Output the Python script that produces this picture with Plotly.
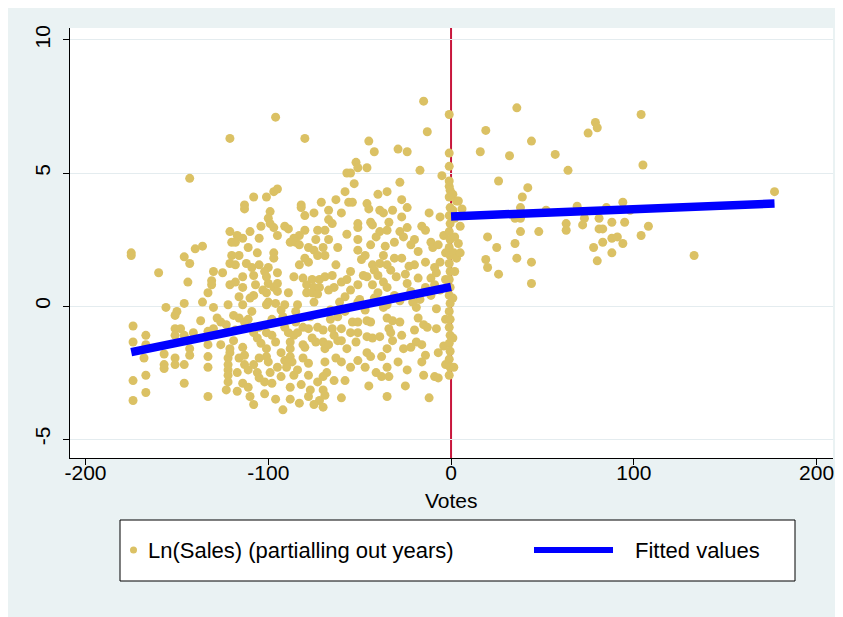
import plotly.graph_objects as go

# ---- data ----
left_points = [
    (-175, 2.0), (-175, 1.9), (-121, 6.3), (-143, 4.8), (-96, 7.1), (-80, 6.3), (-57, 5.0),
    (-108, 4.1), (-101, 4.1), (-97, 4.3), (-95, 4.4), (-82, 3.8), (-71, 3.9), (-113, 3.8), (-56, 3.9),
    (-15, 7.7), (-13, 6.55), (-45, 6.2), (-42, 5.8), (-29, 5.9), (-24, 5.8), (-52, 5.4), (-51, 5.2),
    (-46, 5.2), (-55, 5.0), (-17, 5.1), (-5, 4.9), (-53, 4.6), (-28, 4.65), (-27, 4.0), (-54, 3.9), (-46, 3.85),
    (-160, 1.25), (-144, 0.9), (-146, 1.85), (-143, 1.6), (-140, 2.15), (-136, 2.25), (-121, 2.8), (-120, 2.4),
    (-120, 1.9), (-130, 1.3), (-131, 0.95), (-131, 0.8), (-125, 1.25), (-121, 1.6), (-133, 0.5), (-136, 0.15),
    (-146, 0.1), (-156, -0.05), (-150, -0.2), (-130, -0.05), (-121, 0.8), (-122, 0.05),
    (-174, -0.75), (-174, -1.35), (-167, -1.1), (-167, -1.45), (-168, -1.95), (-151, -0.35), (-151, -0.85),
    (-148, -0.85), (-151, -1.1), (-141, -1.0), (-146, -1.1), (-157, -1.8), (-157, -2.2), (-157, -2.35),
    (-151, -1.95), (-151, -2.2), (-146, -2.2), (-143, -1.6), (-143, -1.85), (-146, -2.9), (-167, -2.6),
    (-174, -2.8), (-167, -3.25), (-174, -3.55), (-133, -1.9), (-133, -2.3), (-133, -3.4), (-133, -0.95),
    (-133, -1.45), (-126, -0.6), (-128, -0.45), (-126, -1.45), (-122, -1.95), (-122, -2.2), (-122, -2.4),
    (-122, -2.6), (-122, -2.85), (-123, -3.15), (-121, -1.6), (-121, -1.75),
    (-123, -0.7), (-119, -0.35), (-137, -0.55), (-130, -0.85), (-118, -0.9), (-109, -0.2), (-116, -0.45),
    (-113, 3.65), (-99, 3.55), (-82, 3.7), (-75, 3.5), (-67, 3.6), (-60, 3.5), (-80, 3.4), (-100, 3.3),
    (-99, 3.1), (-97, 2.95), (-95, 2.65), (-91, 3.0), (-89, 2.9), (-80, 2.85), (-83, 2.65), (-86, 2.55),
    (-73, 2.85), (-69, 2.85), (-67, 3.25), (-117, 2.65), (-114, 2.55), (-105, 2.55), (-88, 2.4), (-85, 2.4),
    (-74, 2.5), (-67, 2.5), (-118, 2.4), (-111, 2.2), (-83, 2.3), (-78, 2.2), (-75, 2.1), (-73, 1.9),
    (-69, 1.9), (-70, 2.2), (-97, 2.0), (-97, 1.8), (-80, 1.8), (-78, 1.65), (-83, 1.55), (-63, 1.55),
    (-109, 1.45), (-105, 1.55), (-100, 1.45), (-118, 1.55), (-114, 1.1), (-108, 1.15), (-102, 1.3),
    (-101, 1.1), (-95, 1.25), (-86, 1.1), (-81, 1.05), (-76, 1.0), (-72, 1.0), (-69, 1.1), (-65, 1.15),
    (-60, 0.9), (-114, 0.7), (-107, 0.8), (-100, 0.85), (-97, 0.7), (-95, 0.85), (-79, 0.8), (-75, 0.7),
    (-72, 0.7), (-64, 0.7), (-116, 0.35), (-108, 0.4), (-101, 0.5), (-100, 0.15), (-95, 0.55), (-89, 0.5),
    (-79, 0.5), (-76, 0.5), (-73, 0.45), (-67, 0.6), (-101, 0.05), (-114, 0.05), (-96, 0.1), (-91, 0.05),
    (-84, 0.05), (-75, 0.15), (-58, 0.35), (-61, 0.15),
    (-45, 3.65), (-37, 3.5), (-27, 3.35), (-24, 3.7), (-51, 3.1), (-51, 2.95), (-44, 3.15), (-43, 3.05),
    (-39, 2.8), (-35, 2.85), (-34, 3.15), (-28, 2.8), (-26, 2.6), (-24, 2.95), (-6, 3.35), (-51, 2.5),
    (-44, 2.3), (-36, 2.25), (-37, 1.9), (-51, 2.1), (-49, 1.75), (-18, 2.05), (-11, 2.4), (-10, 2.2),
    (-7, 2.3), (-27, 1.8), (-43, 1.55), (-39, 1.6), (-35, 1.55), (-33, 1.35), (-42, 1.35), (-40, 1.15),
    (-48, 1.15), (-46, 1.1), (-30, 1.1), (-18, 1.05), (-9, 1.45), (-8, 1.25), (-11, 1.05), (-9, 0.8),
    (-51, 0.8), (-43, 0.8), (-37, 0.9), (-35, 0.7), (-24, 0.85), (-14, 0.7), (-51, 0.15), (-21, 0.15),
    (-19, -0.05), (-8, -0.1), (-37, -0.05), (-35, 0.05),
    (-14, 1.65), (-6, 1.65), (-20, 1.55), (-14, 2.85), (-4, 2.65), (-20, 2.5),
    (-93, -0.15), (-85, -0.2), (-66, -0.15), (-58, -0.2), (-50, 0.25), (-42, 0.3), (-31, 0.4), (-22, 0.55),
    (-17, 0.25), (-11, 0.4), (-6, 0.6), (-55, 0.6), (-47, -0.15),
    (-113, -0.6), (-111, -0.5), (-105, -0.8), (-101, -1.0), (-91, -0.8), (-89, -1.0), (-86, -1.1),
    (-81, -0.8), (-78, -0.85), (-73, -0.8), (-70, -0.9), (-65, -0.85), (-60, -0.85), (-114, -1.55),
    (-106, -1.2), (-104, -1.4), (-101, -1.6), (-96, -1.35), (-93, -1.75), (-88, -1.35), (-88, -1.6),
    (-88, -1.9), (-81, -1.45), (-80, -1.55), (-74, -1.35), (-70, -1.35), (-69, -1.6), (-67, -1.45),
    (-62, -1.3), (-60, -1.3), (-116, -1.95), (-113, -1.85), (-113, -2.2), (-105, -1.95), (-101, -1.9),
    (-100, -2.1), (-95, -2.3), (-91, -2.05), (-87, -2.1), (-81, -1.95), (-78, -2.15), (-69, -2.1),
    (-68, -2.5), (-63, -1.95), (-60, -2.1), (-111, -2.4), (-106, -2.5), (-99, -2.5), (-93, -2.65),
    (-105, -2.7), (-102, -2.85), (-98, -2.9), (-70, -2.65), (-73, -2.85), (-114, -2.9), (-111, -3.05),
    (-88, -3.05), (-82, -2.95), (-77, -3.15), (-70, -3.15), (-69, -3.35), (-102, -3.3), (-60, -3.45),
    (-72, -3.55), (-70, -3.8), (-108, -3.7), (-92, -3.9), (-83, -3.65),
    (-54, -0.6), (-51, -0.6), (-46, -0.55), (-44, -0.6), (-35, -0.45), (-32, -0.55), (-28, -0.6),
    (-18, -0.45), (-15, -0.7), (-13, -0.8), (-8, -0.85), (-51, -1.0), (-52, -1.35), (-46, -1.15),
    (-43, -1.2), (-39, -1.15), (-34, -0.85), (-33, -1.0), (-32, -1.3), (-27, -1.1), (-19, -1.35),
    (-16, -1.45), (-35, -1.6), (-26, -1.6), (-22, -1.55), (-46, -1.75), (-44, -1.9), (-51, -2.05),
    (-38, -1.9), (-29, -2.1), (-14, -1.85), (-7, -1.75), (-47, -2.3), (-35, -2.3), (-38, -2.65),
    (-34, -2.65), (-15, -2.6), (-9, -2.65), (-7, -2.7), (-35, -3.4), (-12, -3.45),
    # denser areas
    (-118, 0.9), (-112, 1.6), (-106, 2.0), (-110, 2.8), (-104, 3.0), (-116, 1.9), (-103, 0.6), (-110, 0.3),
    (-98, -0.5), (-92, -0.4), (-85, -0.6), (-77, -0.4), (-66, -0.5), (-62, -0.4), (-98, -1.1), (-84, -1.0),
    (-76, -1.2), (-64, -1.1), (-55, -1.0), (-57, -1.6), (-55, -2.3), (-58, -2.8), (-64, -2.8), (-78, -2.6),
    (-86, -2.6), (-90, -2.3), (-84, -2.4), (-108, -2.2), (-108, -1.0), (-119, -1.3), (-117, -2.5),
    (-117, -3.2), (-110, -3.4), (-96, -3.5), (-88, -3.5), (-78, -3.4), (-75, -3.7),
    (-57, 2.7), (-55, 1.3), (-47, 1.9), (-41, 2.6), (-31, 2.4), (-31, 1.8), (-23, 1.5), (-22, 2.3),
    (-16, 3.0), (-12, 3.5), (-32, 3.6), (-39, 3.6), (-40, 4.2), (-35, 4.3), (-58, 4.3), (-63, 4.0),
    (-65, 3.1), (-62, 2.2), (-57, 1.0), (-40, 0.5), (-28, 0.2), (-25, 1.2), (-3, 1.0), (-3, 2.0),
    (-3, -0.5), (-4, -1.5), (-3, -2.2), (-20, -0.9), (-24, -2.4), (-41, -2.5), (-45, -3.0), (-25, -3.0),
    (-16, -2.1),
]

zero_column = [
    (-1, 7.2), (-1, 5.75), (-1, 5.25), (-1, 4.7), (-1, 4.5), (-0.5, 4.35), (-1, 4.1),
    (-0.5, 3.7), (-1, 3.4), (-0.5, 3.1), (-1, 2.8), (-0.5, 2.5), (-1, 2.2), (-0.5, 1.9), (-1, 1.6),
    (-0.5, 1.3), (-1, 1.0), (-0.5, 0.7), (-1, 0.4), (-0.5, 0.1), (-1, -0.2), (-0.5, -0.5), (-1, -0.8),
    (-0.5, -1.1), (-1, -1.4), (-0.5, -1.7), (-1, -2.0), (-0.5, -2.3), (-1, -2.6),
    (1, 4.2), (1.5, 2.0), (1, 0.3), (1, -1.2), (1.5, -2.3), (1, 3.6),
]

right_points = [
    (3, 3.95), (36, 7.45), (19, 6.6), (16, 5.8), (32, 5.65), (44, 6.2), (57, 5.7), (64, 5.1), (75, 6.5),
    (79, 6.9), (80, 6.7), (26, 4.7), (42, 4.45), (39, 4.1), (38, 3.7), (35, 3.3), (38, 3.3), (52, 3.6),
    (69, 3.75), (73, 3.3), (72, 3.05), (63, 3.1), (63, 2.85), (48, 2.8), (38, 2.8), (20, 2.6), (25, 2.2),
    (35, 2.35), (19, 1.75), (20, 1.45), (26, 1.2), (36, 1.8), (44, 1.65), (44, 0.85), (5, 3.0), (6, 3.65),
    (4, 3.95), (4, 2.35), (2, 2.6), (85, 3.7), (81, 3.3), (88, 3.15), (81, 2.9), (83, 2.9), (83, 2.4),
    (88, 2.55), (91, 2.6), (78, 2.2), (88, 2.0), (80, 1.7), (94, 3.9), (95, 3.15), (94, 2.35), (104, 7.2),
    (105, 5.3), (108, 3.0), (104, 2.65), (133, 1.9), (177, 4.3), (98, 3.6), (2, 3.3), (3, 1.8), (2, 1.3),
    (5, 2.0),
]

fit_left_votes = [-175, 0]
fit_left_values = [-1.73, 0.72]
fit_right_votes = [0, 177]
fit_right_values = [3.37, 3.85]

x_ticks = [-200, -100, 0, 100, 200]
x_tick_text = ["-200", "-100", "0", "100", "200"]
y_ticks = [-5, 0, 5, 10]
y_tick_text = ["-5", "0", "5", "10"]
legend_labels = ["Ln(Sales) (partialling out years)", "Fitted values"]
x_title = "Votes"

# ---- figure ----
W, H = 843, 617
OFF = 8  # page body offset of the drawing
SX0, SX1, SY0, SY1 = 70, 833, 28, 458  # plot region on screen
L, T = SX0 - OFF, SY0 - OFF
R, B = W - (SX1 - OFF), H - (SY1 - OFF)
PW, PH = W - L - R, H - T - B
FONT = "Liberation Sans, Arial, sans-serif"
FS = 21
DOT = "#DBC164"
BLUE = "#0000FF"
BG = "#EAF2F3"


def px(xs):
    return (xs - SX0) / PW


def py(ys):
    return (SY1 - ys) / PH


pts = left_points + zero_column + right_points
votes = [p[0] for p in pts]
sales = [p[1] for p in pts]

fig = go.Figure()
fig.add_trace(go.Scatter(x=votes, y=sales, mode="markers",
                         marker=dict(size=9, color=DOT, line=dict(width=0)),
                         name=legend_labels[0], showlegend=False, hoverinfo="skip"))
fig.add_trace(go.Scatter(x=fit_left_votes, y=fit_left_values, mode="lines",
                         line=dict(color=BLUE, width=8.5), name=legend_labels[1], showlegend=False))
fig.add_trace(go.Scatter(x=fit_right_votes, y=fit_right_values, mode="lines",
                         line=dict(color=BLUE, width=8.5), showlegend=False))

# vertical reference line at 0 votes
fig.add_shape(type="line", xref="x", yref="paper", x0=0, x1=0, y0=0, y1=1,
              line=dict(color="#C8163C", width=2), layer="below")

# legend box
fig.add_shape(type="rect", xref="paper", yref="paper", x0=px(120), x1=px(795), y0=py(581), y1=py(520),
              line=dict(color="black", width=1), fillcolor="white", layer="above")
fig.add_shape(type="circle", xref="paper", yref="paper", x0=px(130), x1=px(137), y0=py(553.5), y1=py(546.5),
              line=dict(width=0), fillcolor=DOT, layer="above")
fig.add_shape(type="line", xref="paper", yref="paper", x0=px(534), x1=px(613), y0=py(550), y1=py(550),
              line=dict(color=BLUE, width=6), layer="above")
fig.add_annotation(xref="paper", yref="paper", x=px(146), y=py(550), text=legend_labels[0],
                   showarrow=False, xanchor="left", yanchor="middle", font=dict(size=22, color="black"))
fig.add_annotation(xref="paper", yref="paper", x=px(633), y=py(550), text=legend_labels[1],
                   showarrow=False, xanchor="left", yanchor="middle", font=dict(size=22, color="black"))
# x axis title
fig.add_annotation(xref="paper", yref="paper", x=px(451), y=py(500), text=x_title,
                   showarrow=False, xanchor="center", yanchor="middle", font=dict(size=FS, color="black"))

fig.update_layout(
    width=W, height=H,
    margin=dict(l=L, r=R, t=T, b=B, pad=0),
    paper_bgcolor=BG, plot_bgcolor="white",
    font=dict(family=FONT, size=FS, color="black"),
    showlegend=False,
    xaxis=dict(range=[-208.5, 209], tickvals=x_ticks, ticktext=x_tick_text, ticks="outside", ticklen=6,
               tickcolor="black", showline=True, linecolor="black", linewidth=1, showgrid=False,
               zeroline=False, automargin=False, tickfont=dict(size=FS), ticklabelstandoff=-10),
    yaxis=dict(range=[-5.71, 10.45], tickvals=y_ticks, ticktext=y_tick_text, ticks="outside", ticklen=6,
               tickcolor="black", showline=True, linecolor="black", linewidth=1, showgrid=True,
               gridcolor="#E4ECEF", gridwidth=1, zeroline=False, tickangle=-90, automargin=False,
               tickfont=dict(size=FS), ticklabelstandoff=5),
)

fig.write_html("out.html")
